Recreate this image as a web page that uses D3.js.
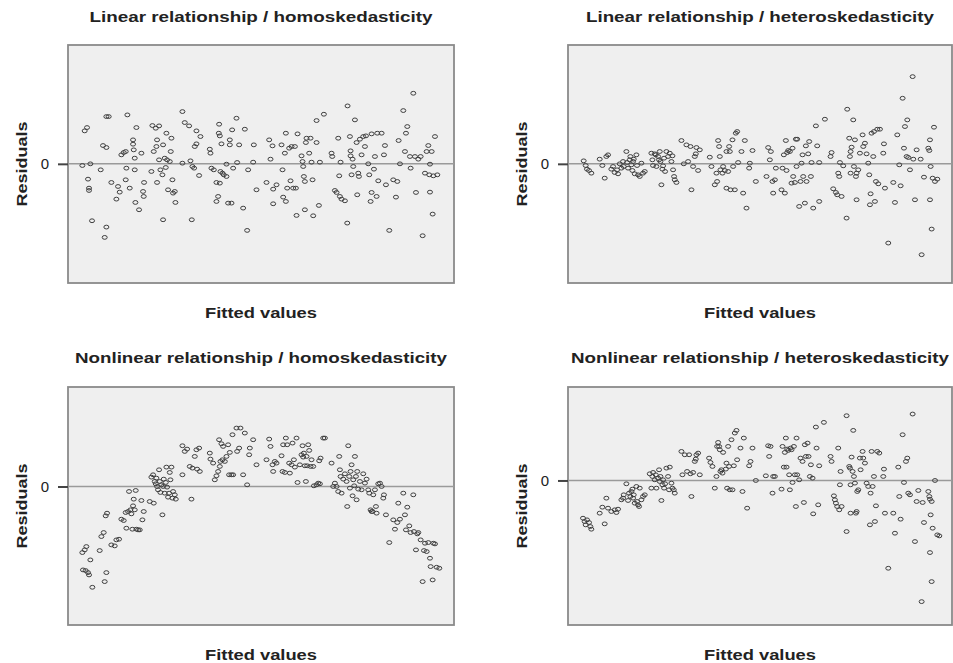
<!DOCTYPE html>
<html>
  <head>
    <meta charset="utf-8">
    <title>Residual plots</title>
    <script src="https://d3js.org/d3.v7.min.js"></script>
    <style>
      body { margin: 0; background: #ffffff; }
      text { font-family: "Liberation Sans", Arial, sans-serif; fill: #222; }
      .title, .xlab, .ylab { font-weight: bold; font-size: 15px; }
      .zero-lbl { font-size: 15px; }
      .box { fill: #efefef; stroke: #8a8a8a; stroke-width: 1.8px; }
      .zero { stroke: #9a9a9a; stroke-width: 1.5px; }
      .tick0 { stroke: #444; stroke-width: 2px; }
      ellipse { fill: none; stroke: #3f3f3f; stroke-width: 1px; }
    </style>
  </head>
  <body>
    <div id="chart"></div>
    <script>
      // panel titles
      var titles = [
        "Linear relationship / homoskedasticity",
        "Linear relationship / heteroskedasticity",
        "Nonlinear relationship / homoskedasticity",
        "Nonlinear relationship / heteroskedasticity"
      ];
      var xLabel = "Fitted values",
          yLabel = "Residuals",
          zeroTick = "0";

      // [fitted, residual]
      var linHomo = [
        [2.55,0.99],[2.62,1.09],[2.48,-0.05],[2.72,0.00],[2.65,-0.46],[2.68,-0.73],[2.68,-0.80],[2.77,-1.71],
        [3.03,-0.18],[3.10,0.55],[3.20,0.49],[3.20,1.42],[3.27,1.42],[3.20,-1.90],[3.15,-2.21],[3.35,-0.56],
        [3.50,-1.06],[3.55,-0.68],[3.60,-0.85],[3.65,0.27],[3.72,0.34],[3.78,0.37],[3.80,-0.13],[3.78,-0.48],
        [3.83,1.47],[3.90,-0.73],[4.00,0.72],[4.00,0.59],[4.02,0.42],[4.05,0.17],[4.05,-0.18],[4.07,-1.16],
        [4.10,1.09],[4.18,-1.38],[4.25,0.32],[4.30,-0.83],[4.32,-0.98],[4.33,-0.56],[4.55,-0.23],[4.58,1.15],
        [4.62,0.37],[4.68,1.07],[4.72,0.72],[4.70,0.52],[4.72,-0.56],[4.78,1.14],[4.78,0.12],[4.82,-0.18],
        [4.88,-0.33],[4.90,-1.68],[4.90,0.57],[4.95,0.17],[4.98,-0.11],[5.00,0.92],[5.02,0.12],[5.05,-0.78],
        [5.10,0.07],[5.13,0.37],[5.15,0.77],[5.18,-0.48],[5.20,-0.88],[5.25,-0.83],[5.27,-1.16],[5.48,1.57],
        [5.48,0.02],[5.55,1.24],[5.68,1.14],[5.72,0.09],[5.76,-1.68],[5.78,-0.08],[5.83,-0.13],[5.85,0.52],
        [5.90,0.99],[5.90,0.60],[5.98,-0.35],[6.02,0.82],[6.30,0.44],[6.32,0.32],[6.35,-0.13],[6.42,-0.18],
        [6.50,-0.56],[6.50,-1.13],[6.55,-0.98],[6.58,1.19],[6.57,0.92],[6.60,-0.58],[6.60,0.84],[6.62,-0.23],
        [6.65,0.60],[6.68,-0.28],[6.72,-0.33],[6.80,-0.38],[6.80,-0.01],[6.85,-1.18],[6.90,0.72],[6.90,0.57],
        [6.95,-1.18],[6.97,1.02],[7.00,-0.13],[7.10,1.37],[7.12,0.04],[7.18,0.57],[7.30,-1.33],[7.35,1.04],
        [7.42,-2.00],[7.45,-0.18],[7.60,0.05],[7.62,0.57],[7.70,-0.78],[8.00,-0.56],[8.08,0.72],[8.12,0.14],
        [8.18,0.54],[8.20,-1.20],[8.20,-0.76],[8.30,-0.63],[8.45,0.57],[8.48,-0.18],[8.50,-1.00],[8.55,0.32],
        [8.58,-1.13],[8.58,0.92],[8.62,-0.73],[8.68,0.47],[8.72,-0.51],[8.75,0.52],[8.80,-0.73],[8.85,0.52],
        [8.88,-0.73],[8.90,-1.55],[8.93,0.90],[9.05,0.24],[9.08,0.07],[9.10,-0.08],[9.12,-0.38],[9.15,-0.53],
        [9.15,-1.38],[9.18,0.64],[9.20,0.77],[9.28,0.32],[9.32,0.77],[9.35,0.05],[9.38,-0.48],[9.40,-1.56],
        [9.50,0.64],[9.50,1.30],[9.57,-1.25],[9.60,0.05],[9.72,1.49],[9.95,0.32],[9.97,0.22],[10.05,-0.80],
        [10.10,-0.86],[10.15,0.77],[10.18,-0.36],[10.20,-0.98],[10.22,0.05],[10.25,-1.06],[10.35,-1.11],[10.42,-1.78],
        [10.43,1.74],[10.50,0.82],[10.52,0.39],[10.52,0.24],[10.55,-0.33],[10.58,0.14],[10.60,-0.08],[10.65,1.32],
        [10.70,0.64],[10.72,-0.93],[10.75,-0.28],[10.77,-0.38],[10.80,0.74],[10.85,0.27],[10.90,0.82],[10.95,0.52],
        [10.98,0.84],[11.05,0.00],[11.08,-0.33],[11.12,-1.13],[11.15,-0.86],[11.15,0.90],[11.22,-0.16],[11.25,0.22],
        [11.30,-0.98],[11.32,0.92],[11.35,-0.51],[11.45,0.92],[11.52,0.27],[11.55,0.55],[11.58,-0.63],[11.68,-2.00],
        [11.80,-0.48],[11.88,-1.00],[11.92,-0.53],[11.96,0.70],[12.00,0.00],[12.10,1.60],[12.15,0.37],[12.18,0.92],
        [12.22,1.12],[12.30,0.22],[12.32,-0.13],[12.40,2.12],[12.45,0.22],[12.48,-0.86],[12.55,0.14],[12.62,0.22],
        [12.68,-2.16],[12.75,-0.28],[12.80,0.37],[12.85,0.55],[12.88,-0.33],[12.90,-0.85],[12.90,-0.01],[12.95,0.37],
        [12.98,-1.51],[13.00,-0.36],[13.05,0.82],[13.12,-0.33]
      ];

      var linHetero = [
        [3.12,0.09],[3.18,-0.05],[3.22,-0.16],[3.28,-0.20],[3.35,-0.28],[3.60,0.14],[3.68,-0.05],[3.75,-0.43],
        [3.80,0.22],[3.85,0.27],[3.95,-0.16],[4.00,-0.08],[4.05,-0.26],[4.12,-0.18],[4.15,-0.30],[4.20,0.00],
        [4.25,-0.13],[4.30,0.07],[4.32,-0.08],[4.40,0.37],[4.42,0.04],[4.45,-0.13],[4.50,0.12],[4.52,0.22],
        [4.55,-0.03],[4.58,-0.20],[4.60,0.07],[4.62,0.14],[4.65,-0.30],[4.70,0.27],[4.72,-0.05],[4.75,-0.33],
        [4.80,-0.38],[4.85,0.02],[4.90,-0.28],[4.95,-0.23],[5.15,0.32],[5.18,0.12],[5.20,-0.05],[5.25,0.30],
        [5.28,0.27],[5.30,-0.08],[5.35,0.22],[5.38,0.12],[5.40,0.37],[5.42,0.07],[5.45,-0.63],[5.48,-0.16],
        [5.50,-0.06],[5.53,0.17],[5.56,-0.23],[5.60,0.37],[5.65,0.22],[5.70,0.32],[5.75,0.07],[5.78,0.24],
        [5.80,-0.18],[5.83,-0.38],[5.85,-0.48],[5.90,-0.56],[6.05,0.70],[6.12,0.00],[6.20,0.57],[6.25,0.07],
        [6.32,0.52],[6.35,-0.78],[6.40,-0.08],[6.45,0.22],[6.48,0.30],[6.50,0.49],[6.55,-0.20],[6.60,0.42],
        [6.90,0.20],[6.95,-0.08],[7.05,-0.63],[7.10,-0.28],[7.12,-0.53],[7.15,0.70],[7.18,0.52],[7.20,0.22],
        [7.22,-0.18],[7.28,-0.28],[7.30,-0.08],[7.35,-0.20],[7.40,0.37],[7.40,-0.73],[7.45,-0.23],[7.48,0.52],
        [7.50,0.37],[7.52,-0.78],[7.58,0.72],[7.60,-0.08],[7.65,-0.78],[7.68,0.92],[7.72,0.97],[7.75,0.04],
        [7.85,0.37],[7.90,-0.88],[7.95,0.70],[8.00,-1.33],[8.08,-0.13],[8.10,0.02],[8.18,0.40],[8.28,-0.53],
        [8.60,-0.38],[8.65,0.49],[8.70,0.12],[8.73,0.37],[8.78,-0.53],[8.80,-0.88],[8.85,-0.48],[8.88,-0.13],
        [9.05,-0.78],[9.08,-0.13],[9.12,0.27],[9.15,-0.88],[9.18,0.70],[9.20,-0.20],[9.22,0.34],[9.25,0.40],
        [9.30,0.37],[9.35,-0.58],[9.38,0.47],[9.40,-0.38],[9.45,-0.56],[9.48,0.74],[9.50,-0.08],[9.52,0.74],
        [9.58,-1.28],[9.62,-0.53],[9.65,0.02],[9.68,0.27],[9.70,-0.38],[9.75,-1.18],[9.78,0.54],[9.80,-0.53],
        [9.85,0.30],[9.88,0.67],[9.93,-0.38],[9.95,0.04],[10.00,-1.33],[10.08,1.14],[10.12,0.54],[10.18,0.04],
        [10.18,-1.13],[10.35,1.34],[10.52,0.22],[10.55,0.34],[10.60,-0.75],[10.68,-0.86],[10.72,-0.93],[10.75,-0.28],
        [10.78,-0.38],[10.80,0.04],[10.85,-0.98],[10.90,-0.06],[11.00,-1.63],[11.02,1.64],[11.08,0.77],[11.10,0.22],
        [11.12,-0.28],[11.12,0.37],[11.15,0.50],[11.20,1.32],[11.22,-0.08],[11.25,0.72],[11.28,-0.38],[11.30,-0.28],
        [11.30,-1.08],[11.35,-0.18],[11.40,0.32],[11.48,0.87],[11.50,0.52],[11.55,0.62],[11.60,0.30],[11.65,0.02],
        [11.68,-0.33],[11.70,-1.23],[11.72,-0.90],[11.75,0.92],[11.80,0.22],[11.82,0.97],[11.85,-1.13],[11.88,-0.53],
        [11.92,1.04],[11.95,-0.60],[12.00,1.04],[12.10,0.32],[12.12,0.60],[12.15,-0.73],[12.25,-2.38],[12.40,-0.56],
        [12.45,-1.16],[12.52,0.87],[12.58,-0.03],[12.62,-0.66],[12.68,1.97],[12.72,0.47],[12.75,1.12],[12.80,0.22],
        [12.82,1.32],[12.85,0.19],[12.90,-0.18],[12.98,2.62],[13.00,0.14],[13.05,-1.08],[13.10,0.42],[13.22,0.14],
        [13.25,-2.73],[13.32,-0.40],[13.45,0.47],[13.48,0.40],[13.50,0.72],[13.50,-1.08],[13.52,-0.08],[13.55,-1.96],
        [13.58,-0.43],[13.62,1.10],[13.65,-0.53],[13.72,-0.46]
      ];

      var nonlinHomo = [
        [2.48,-1.98],[2.55,-1.90],[2.60,-1.80],[2.50,-2.50],[2.58,-2.52],[2.65,-2.58],[2.68,-2.65],[2.72,-2.20],
        [2.78,-3.02],[3.00,-1.92],[3.05,-1.50],[3.12,-1.38],[3.18,-0.88],[3.22,-0.80],[3.15,-2.85],[3.20,-2.58],
        [3.35,-1.75],[3.45,-1.78],[3.50,-1.60],[3.58,-1.58],[3.65,-0.98],[3.72,-1.02],[3.78,-0.78],[3.80,-1.25],
        [3.85,-0.75],[3.88,-0.15],[3.92,-0.70],[3.95,-0.82],[3.98,-1.28],[4.00,-0.58],[4.02,-0.38],[4.05,-0.70],
        [4.08,-0.12],[4.10,-1.28],[4.15,-1.30],[4.20,-1.30],[4.25,-0.42],[4.28,-1.00],[4.32,-0.75],[4.50,-0.45],
        [4.55,0.28],[4.60,0.35],[4.62,-0.50],[4.65,0.15],[4.68,0.08],[4.70,0.25],[4.72,0.00],[4.75,-0.10],
        [4.78,0.50],[4.80,0.15],[4.82,-0.18],[4.85,0.05],[4.88,-0.85],[4.90,0.00],[4.92,0.22],[4.95,-0.20],
        [4.98,0.12],[5.00,0.58],[5.02,-0.02],[5.05,-0.32],[5.08,-0.20],[5.10,0.42],[5.12,0.20],[5.15,0.58],
        [5.18,-0.35],[5.20,-0.15],[5.25,-0.25],[5.28,-0.38],[5.48,1.22],[5.48,0.35],[5.55,1.05],[5.62,1.12],
        [5.70,0.60],[5.75,-0.38],[5.78,0.55],[5.85,0.90],[5.90,1.10],[5.92,0.52],[5.98,1.15],[6.00,0.45],
        [6.30,1.00],[6.32,0.82],[6.40,0.70],[6.45,0.20],[6.50,0.32],[6.55,0.45],[6.58,1.40],[6.60,0.60],
        [6.62,0.75],[6.65,1.28],[6.68,0.80],[6.70,1.20],[6.75,0.75],[6.80,0.90],[6.85,1.25],[6.88,0.35],
        [6.90,1.02],[6.95,0.35],[6.98,1.55],[7.00,0.35],[7.10,1.75],[7.12,1.05],[7.18,1.15],[7.22,1.75],
        [7.30,0.35],[7.35,1.60],[7.42,0.05],[7.48,0.95],[7.50,1.15],[7.60,1.40],[7.70,0.65],[8.00,0.80],
        [8.08,1.42],[8.12,1.20],[8.18,0.65],[8.20,0.45],[8.25,0.75],[8.30,0.70],[8.45,0.92],[8.48,0.45],
        [8.50,1.25],[8.55,0.42],[8.58,1.45],[8.62,1.25],[8.68,0.70],[8.70,0.40],[8.75,0.65],[8.78,1.30],
        [8.82,0.80],[8.85,0.58],[8.90,1.45],[8.93,0.12],[9.00,0.65],[9.05,0.95],[9.08,1.22],[9.10,0.88],
        [9.12,1.00],[9.15,0.62],[9.18,0.15],[9.20,0.90],[9.22,0.62],[9.25,1.25],[9.28,1.08],[9.32,0.60],
        [9.35,0.80],[9.40,0.60],[9.42,0.02],[9.50,0.05],[9.55,0.10],[9.58,0.77],[9.60,0.08],[9.62,0.85],
        [9.70,1.45],[9.75,1.45],[9.95,0.70],[10.00,0.00],[10.05,0.10],[10.10,0.00],[10.15,-0.15],[10.18,0.90],
        [10.20,0.50],[10.22,0.30],[10.25,-0.20],[10.30,0.22],[10.35,0.38],[10.40,0.15],[10.42,-0.60],[10.45,1.22],
        [10.48,0.30],[10.50,-0.05],[10.52,0.45],[10.55,0.65],[10.58,-0.28],[10.60,0.20],[10.63,0.02],[10.65,0.90],
        [10.68,0.30],[10.70,-0.40],[10.72,0.45],[10.75,-0.08],[10.80,0.15],[10.85,-0.10],[10.90,0.38],[10.95,0.10],
        [11.00,0.22],[11.05,-0.10],[11.08,-0.20],[11.12,-0.70],[11.15,-0.75],[11.18,-0.75],[11.20,-0.25],[11.25,-0.10],
        [11.28,-0.60],[11.30,-0.80],[11.35,0.08],[11.40,0.10],[11.45,0.00],[11.50,-0.35],[11.52,-0.25],[11.58,-0.85],
        [11.68,-1.68],[11.80,-1.00],[11.85,-1.28],[11.92,-1.08],[11.95,-0.50],[12.00,-0.98],[12.10,-0.20],[12.15,-0.85],
        [12.18,-1.30],[12.22,-0.62],[12.28,-1.18],[12.32,-1.38],[12.40,-0.25],[12.42,-1.35],[12.48,-1.90],[12.52,-1.42],
        [12.55,-1.38],[12.62,-1.60],[12.68,-2.85],[12.72,-1.92],[12.75,-1.70],[12.80,-1.95],[12.85,-1.68],[12.90,-2.15],
        [12.92,-2.40],[12.98,-2.80],[13.00,-1.70],[13.05,-1.72],[13.10,-2.42],[13.18,-2.45]
      ];

      var nonlinHetero = [
        [3.10,-1.13],[3.15,-1.23],[3.18,-1.33],[3.22,-1.18],[3.28,-1.26],[3.32,-1.38],[3.35,-1.46],[3.60,-0.98],
        [3.68,-0.80],[3.75,-1.30],[3.80,-0.53],[3.85,-0.83],[3.95,-0.93],[4.05,-0.88],[4.10,-0.96],[4.15,-0.86],
        [4.25,-0.58],[4.30,-0.53],[4.32,-0.43],[4.40,-0.10],[4.45,-0.60],[4.48,-0.38],[4.52,-0.48],[4.55,-0.33],
        [4.58,-0.26],[4.60,-0.53],[4.62,-0.43],[4.65,-0.68],[4.70,-0.18],[4.72,-0.63],[4.75,-0.73],[4.78,-0.78],
        [4.80,-0.23],[4.85,-0.58],[4.90,-0.48],[4.95,-0.43],[5.10,0.20],[5.15,-0.23],[5.18,0.12],[5.20,0.24],
        [5.25,0.02],[5.28,0.17],[5.30,-0.23],[5.35,0.07],[5.38,0.32],[5.40,-0.03],[5.42,0.12],[5.45,-0.60],
        [5.48,-0.13],[5.50,0.02],[5.53,-0.23],[5.56,-0.10],[5.60,0.37],[5.65,0.12],[5.68,-0.28],[5.70,0.40],
        [5.75,-0.08],[5.78,-0.23],[5.82,-0.28],[5.85,-0.38],[6.05,0.87],[6.08,0.17],[6.15,0.77],[6.22,0.27],
        [6.28,0.77],[6.32,0.20],[6.35,-0.48],[6.40,0.24],[6.45,0.57],[6.48,0.64],[6.50,0.77],[6.55,0.82],
        [6.60,0.17],[6.88,0.67],[6.92,0.54],[6.98,0.42],[7.05,-0.23],[7.10,0.12],[7.12,1.02],[7.15,1.14],
        [7.18,1.02],[7.20,0.92],[7.22,0.27],[7.25,0.32],[7.28,0.22],[7.30,0.84],[7.38,0.34],[7.40,0.52],
        [7.42,-0.23],[7.45,1.02],[7.48,0.42],[7.50,-0.28],[7.55,1.22],[7.58,-0.28],[7.62,0.44],[7.65,1.42],
        [7.70,1.50],[7.72,0.62],[7.82,0.97],[7.88,-0.33],[7.92,1.27],[8.02,-0.83],[8.08,0.44],[8.12,0.57],
        [8.18,0.97],[8.28,0.00],[8.58,0.14],[8.65,1.04],[8.68,0.72],[8.72,1.02],[8.78,-0.38],[8.80,0.12],
        [8.85,0.12],[9.05,-0.26],[9.08,1.02],[9.12,0.40],[9.15,0.84],[9.18,1.27],[9.20,0.40],[9.22,0.94],
        [9.25,0.90],[9.28,0.17],[9.30,-0.28],[9.32,0.97],[9.35,0.92],[9.38,-0.06],[9.42,1.02],[9.45,0.17],
        [9.48,-0.78],[9.50,1.27],[9.52,0.17],[9.58,0.02],[9.62,0.67],[9.68,0.57],[9.72,-0.66],[9.75,1.07],
        [9.78,0.72],[9.83,1.12],[9.86,0.72],[9.90,0.12],[9.93,0.47],[9.98,0.07],[10.00,-1.00],[10.08,1.60],
        [10.10,0.97],[10.15,-0.73],[10.18,0.44],[10.32,1.74],[10.52,0.72],[10.55,0.57],[10.62,-0.46],[10.65,-0.58],
        [10.68,-0.68],[10.72,-0.78],[10.75,0.97],[10.78,-0.88],[10.80,-0.13],[10.82,0.27],[10.85,-0.78],[11.00,1.94],
        [11.00,-1.53],[11.08,0.42],[11.10,0.37],[11.12,-0.13],[11.12,-0.98],[11.15,0.70],[11.18,0.27],[11.20,1.50],
        [11.22,0.12],[11.25,-0.08],[11.28,-0.98],[11.30,-0.93],[11.32,-0.33],[11.35,-0.28],[11.40,0.67],[11.42,0.32],
        [11.48,0.87],[11.50,0.67],[11.55,0.52],[11.60,-0.08],[11.65,-0.18],[11.70,-1.33],[11.72,-0.38],[11.75,0.87],
        [11.78,-0.18],[11.82,0.12],[11.85,-1.23],[11.88,-0.76],[11.92,0.87],[11.98,0.82],[12.10,0.12],[12.12,0.34],
        [12.15,-0.98],[12.25,-2.63],[12.40,-0.98],[12.45,-1.58],[12.55,0.40],[12.58,-0.48],[12.62,-1.16],[12.68,1.37],
        [12.72,-0.06],[12.78,0.57],[12.82,0.67],[12.85,-0.38],[12.90,-0.43],[12.98,1.99],[13.05,-1.83],[13.10,-0.63],
        [13.15,-0.30],[13.25,-3.63],[13.28,-0.66],[13.32,-1.26],[13.45,-0.33],[13.48,-0.48],[13.50,-0.56],[13.50,-2.16],
        [13.52,-1.03],[13.55,-3.03],[13.55,-0.63],[13.58,-1.43],[13.65,0.00],[13.72,-1.63],[13.78,-1.66]
      ];

      var datasets = [linHomo, linHetero, nonlinHomo, nonlinHetero];
      var xDomains = [[2.05, 13.62], [2.65, 14.16], [2.05, 13.62], [2.65, 14.16]];
      var yDomains = [[-3.58, 3.57], [-3.58, 3.57], [-4.15, 2.98], [-4.33, 2.80]];

      var width = 953, height = 663;

      // plot box of each panel (left, top, right, bottom)
      var boxes = [
        { l: 68,  t: 45,  r: 454, b: 283 },
        { l: 568, t: 45,  r: 952, b: 283 },
        { l: 68,  t: 387, r: 454, b: 625 },
        { l: 568, t: 387, r: 952, b: 625 }
      ];
      var titleY = [22, 22, 363, 363],
          titleLen = [343, 348, 372, 378],
          xlabY = [318, 318, 660, 660];

      var svg = d3.select("#chart").append("svg")
                  .attr("width", width)
                  .attr("height", height);

      datasets.forEach(function(data, i) {
        var bx = boxes[i];
        var x = d3.scaleLinear().domain(xDomains[i]).range([bx.l, bx.r]);
        var y = d3.scaleLinear().domain(yDomains[i]).range([bx.b, bx.t]);
        var cx = (bx.l + bx.r) / 2;
        var g = svg.append("g").attr("class", "panel");

        g.append("rect")
          .attr("class", "box")
          .attr("x", bx.l).attr("y", bx.t)
          .attr("width", bx.r - bx.l).attr("height", bx.b - bx.t);

        // zero reference line + the single "0" tick
        g.append("line").attr("class", "zero")
          .attr("x1", bx.l).attr("x2", bx.r)
          .attr("y1", y(0)).attr("y2", y(0));

        var yAxis = d3.axisLeft(y).tickValues([0]).tickSize(10).tickPadding(9)
                      .tickFormat(function() { return zeroTick; });
        var ga = g.append("g")
          .attr("transform", "translate(" + bx.l + ",0)")
          .call(yAxis);
        ga.select(".domain").remove();
        ga.selectAll(".tick line").attr("class", "tick0");
        ga.selectAll(".tick text")
          .attr("class", "zero-lbl")
          .attr("fill", "#222")
          .style("font-family", "'Liberation Sans', Arial, sans-serif");

        // markers are a little wider than tall in the original
        g.append("g").selectAll("ellipse")
          .data(data)
          .enter().append("ellipse")
          .attr("cx", function(d) { return x(d[0]); })
          .attr("cy", function(d) { return y(d[1]); })
          .attr("rx", 2.5)
          .attr("ry", 1.9);

        g.append("text").attr("class", "title")
          .attr("x", cx).attr("y", titleY[i])
          .attr("text-anchor", "middle")
          .attr("textLength", titleLen[i])
          .attr("lengthAdjust", "spacingAndGlyphs")
          .text(titles[i]);

        g.append("text").attr("class", "xlab")
          .attr("x", cx).attr("y", xlabY[i])
          .attr("text-anchor", "middle")
          .attr("textLength", 112)
          .attr("lengthAdjust", "spacingAndGlyphs")
          .text(xLabel);

        var ly = (bx.t + bx.b) / 2;
        g.append("text").attr("class", "ylab")
          .attr("transform", "translate(" + (bx.l - 41) + "," + ly + ") rotate(-90)")
          .attr("text-anchor", "middle")
          .attr("textLength", 85)
          .attr("lengthAdjust", "spacingAndGlyphs")
          .text(yLabel);
      });
    </script>
  </body>
</html>
